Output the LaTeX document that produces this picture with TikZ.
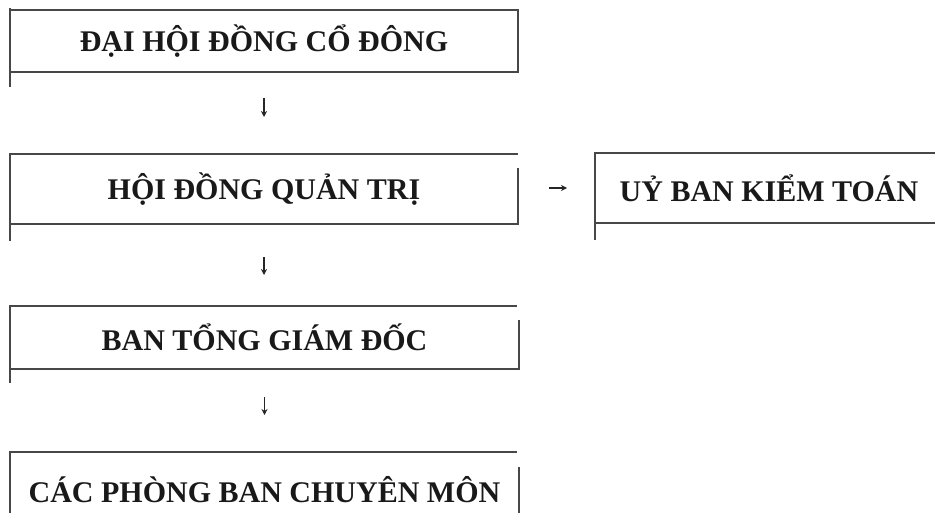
\documentclass[tikz,border=0pt]{standalone}
\usepackage{fontspec}
\setmainfont{Liberation Serif}
\usetikzlibrary{calc,arrows.meta}
\begin{document}
\begin{tikzpicture}[x=1pt,y=-1pt,
  lbl/.style={inner sep=0pt,outer sep=0pt,font=\fontsize{30}{36}\selectfont\bfseries,text=black!90},
  edge/.style={line width=1.7pt,draw=black!72},
  arr/.style={line width=1.1pt,draw=black!85,-{Stealth[length=6pt,width=6pt]}}]
\useasboundingbox (0,0) rectangle (935,513);
\fill[white] (0,0) rectangle (935,513);
\clip (0,0) rectangle (935,513);
% nodes (text only; size gives the box corners)
\node[lbl,minimum width=508pt,minimum height=62pt] (A) at (264,41) {ĐẠI HỘI ĐỒNG CỔ ĐÔNG};
\node[lbl,minimum width=508pt,minimum height=70pt] (B) at (264,189) {HỘI ĐỒNG QUẢN TRỊ};
\node[lbl,minimum width=348pt,minimum height=70pt] (K) at (769,188) {UỶ BAN KIỂM TOÁN};
\node[lbl,minimum width=509pt,minimum height=63pt] (C) at (264.5,337.5) {BAN TỔNG GIÁM ĐỐC};
\node[lbl,minimum width=509pt,minimum height=76pt] (D) at (264.5,490) {CÁC PHÒNG BAN CHUYÊN MÔN};
% box A
\draw[edge] (A.north west) -- (A.north east) -- (A.south east) -- (A.south west);
\draw[edge] ($(A.north west)+(0,-2)$) -- ($(A.south west)+(0,15)$);
% box B
\draw[edge] (B.north west) -- (B.north east);
\draw[edge] ($(B.north east)+(0,14)$) -- (B.south east) -- (B.south west);
\draw[edge] ($(B.north west)+(0,-1)$) -- ($(B.south west)+(0,17)$);
% box K
\draw[edge] (K.north east) -- (K.north west);
\draw[edge] (K.south west) -- (K.south east);
\draw[edge] ($(K.north west)+(0,-1)$) -- ($(K.south west)+(0,17)$);
% box C
\draw[edge] (C.north west) -- ($(C.north east)+(-2,0)$);
\draw[edge] ($(C.north east)+(0,14)$) -- (C.south east) -- (C.south west);
\draw[edge] ($(C.north west)+(0,-1)$) -- ($(C.south west)+(0,14)$);
% box D
\draw[edge] (D.north west) -- ($(D.north east)+(-2,0)$);
\draw[edge] ($(D.north east)+(0,15)$) -- (D.south east);
\draw[edge] ($(D.north west)+(0,-1)$) -- (D.south west);
% connectors
\draw[arr] ($(A.south)+(0,26)$) -- ($(A.south)+(0,45)$);
\draw[arr] ($(B.south)+(0,33)$) -- ($(B.south)+(0,51)$);
\draw[arr] ($(C.south)+(0,28)$) -- ($(C.south)+(0,46)$);
\draw[arr] ($(B.east)+(31,-1)$) -- ($(B.east)+(49,-1)$);
\end{tikzpicture}
\end{document}
